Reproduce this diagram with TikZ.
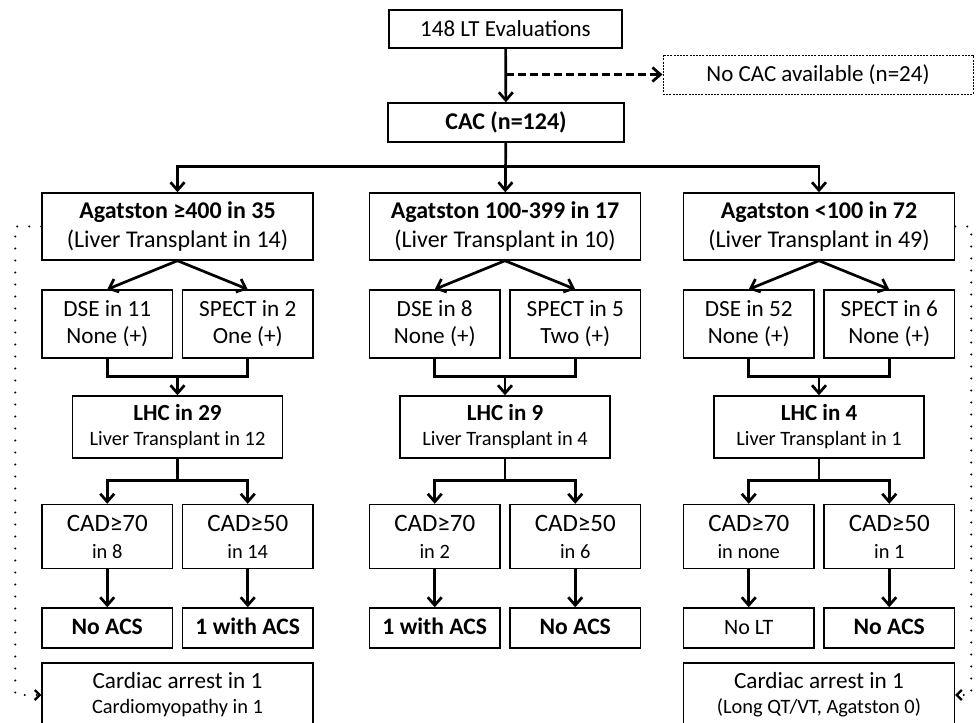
\documentclass[tikz,border=0pt]{standalone}
\usepackage{fontspec}
\setmainfont{Carlito}
\usepackage{tikz}
\usetikzlibrary{positioning, arrows.meta}

\begin{document}
\begin{tikzpicture}[x=0.5pt,y=-0.5pt,
    box/.style={rectangle,draw,line width=0.7pt,align=center,inner sep=0pt,font=\fontsize{11.5}{14.5}\selectfont},
    wide/.style={box,minimum width=135.5pt,minimum height=33.5pt,font=\fontsize{12}{14.5}\selectfont},
    pair/.style={box,minimum width=65.25pt,minimum height=34pt,font=\fontsize{11.6}{13.5}\selectfont},
    lhc/.style={box,minimum width=105pt,minimum height=31pt,font=\fontsize{11.5}{12.5}\selectfont},
    cad/.style={box,minimum width=65.25pt,minimum height=32pt,font=\fontsize{12.5}{13.5}\selectfont},
    res/.style={box,minimum width=65.25pt,minimum height=20pt,text height=8.5pt,text depth=2.5pt,font=\fontsize{11.8}{14}\selectfont},
    card/.style={box,minimum width=135.5pt,minimum height=32pt,font=\fontsize{11.6}{12.5}\selectfont},
    arr/.style={-{Straight Barb[length=4pt,width=7pt]},line width=1.35pt},
    link/.style={line width=1.35pt},
    side/.style={-{Straight Barb[length=2.5pt,width=5pt]},line width=1.1pt,line cap=round,dash pattern=on 0pt off 6pt}
    ]
    \clip (0,0) rectangle (976,723);
    \node [box,minimum width=116.5pt,minimum height=19pt] (eval) at (505.5,29) {148 LT Evaluations};
    \node [box,minimum width=155pt,minimum height=19.5pt,line width=0.5pt,dash pattern=on 1pt off 0.6pt] (nocac) at (818,74.5) {No CAC available (n=24)};
    \node [box,minimum width=118pt,minimum height=19.5pt,font=\fontsize{12}{14}\selectfont] (cac) at (506,122.5) {\textbf{CAC (n=124)}};

    \node [wide] (aga1) at (177.5,226.5) {\textbf{Agatston ≥400 in 35}\\(Liver Transplant in 14)};
    \node [wide] (aga2) at (505,226.5) {\textbf{Agatston 100-399 in 17}\\(Liver Transplant in 10)};
    \node [wide] (aga3) at (819,226.5) {\textbf{Agatston <100 in 72}\\(Liver Transplant in 49)};

    \node [pair] (dse1) at (107.25,324) {DSE in 11\\None (+)};
    \node [pair] (spect1) at (247.75,324) {SPECT in 2\\One (+)};
    \node [pair] (dse2) at (434.75,324) {DSE in 8\\None (+)};
    \node [pair] (spect2) at (575.25,324) {SPECT in 5\\Two (+)};
    \node [pair] (dse3) at (748.75,324) {DSE in 52\\None (+)};
    \node [pair] (spect3) at (889.25,324) {SPECT in 6\\None (+)};

    \node [lhc] (lhc1) at (177.5,427) {\textbf{LHC in 29}\\\fontsize{10.2}{12.5}\selectfont Liver Transplant in 12};
    \node [lhc] (lhc2) at (505,427) {\textbf{LHC in 9}\\\fontsize{10.2}{12.5}\selectfont Liver Transplant in 4};
    \node [lhc] (lhc3) at (819,427) {\textbf{LHC in 4}\\\fontsize{10.2}{12.5}\selectfont Liver Transplant in 1};

    \node [cad] (cad1a) at (107.25,536.5) {CAD≥70\\\fontsize{10.2}{13.5}\selectfont in 8};
    \node [cad] (cad1b) at (247.75,536.5) {CAD≥50\\\fontsize{10.2}{13.5}\selectfont in 14};
    \node [cad] (cad2a) at (434.75,536.5) {CAD≥70\\\fontsize{10.2}{13.5}\selectfont in 2};
    \node [cad] (cad2b) at (575.25,536.5) {CAD≥50\\\fontsize{10.2}{13.5}\selectfont in 6};
    \node [cad] (cad3a) at (748.75,536.5) {CAD≥70\\\fontsize{10.2}{13.5}\selectfont in none};
    \node [cad] (cad3b) at (889.25,536.5) {CAD≥50\\\fontsize{10.2}{13.5}\selectfont in 1};

    \node [res] (res1a) at (107.25,628) {\textbf{No ACS}};
    \node [res] (res1b) at (247.75,628) {\textbf{1 with ACS}};
    \node [res] (res2a) at (434.75,628) {\textbf{1 with ACS}};
    \node [res] (res2b) at (575.25,628) {\textbf{No ACS}};
    \node [res,font=\fontsize{11}{14}\selectfont] (res3a) at (748.75,628) {No LT};
    \node [res] (res3b) at (889.25,628) {\textbf{No ACS}};

    \node [card] (card1) at (177.5,695) {Cardiac arrest in 1\\\fontsize{10.2}{12.5}\selectfont Cardiomyopathy in 1};
    \node [card] (card3) at (819,695) {Cardiac arrest in 1\\\fontsize{10.2}{12.5}\selectfont (Long QT/VT, Agatston 0)};

    \draw [arr] (eval) -- (cac);
    \draw [arr,dash pattern=on 4pt off 2pt] (eval.south |- nocac.west) -- (nocac.west);
    \draw [arr] (cac) -- (aga2);
    \draw [arr] (cac.south) -- ++(0,24) -| (aga1.north);
    \draw [arr] (cac.south) -- ++(0,24) -| (aga3.north);

    \draw [arr] (aga1.south) -- (dse1.north);
    \draw [arr] (aga1.south) -- (spect1.north);
    \draw [arr] (aga2.south) -- (dse2.north);
    \draw [arr] (aga2.south) -- (spect2.north);
    \draw [arr] (aga3.south) -- (dse3.north);
    \draw [arr] (aga3.south) -- (spect3.north);

    \draw [link] (dse1.south) -- ++(0,18) -| (spect1.south);
    \draw [link] (dse2.south) -- ++(0,18) -| (spect2.south);
    \draw [link] (dse3.south) -- ++(0,18) -| (spect3.south);
    \draw [arr] (lhc1.north) ++(0,-20) -- (lhc1.north);
    \draw [arr] (lhc2.north) ++(0,-20) -- (lhc2.north);
    \draw [arr] (lhc3.north) ++(0,-20) -- (lhc3.north);

    \draw [arr] (lhc1.south) -- ++(0,22) -| (cad1a.north);
    \draw [arr] (lhc1.south) -- ++(0,22) -| (cad1b.north);
    \draw [arr] (lhc2.south) -- ++(0,22) -| (cad2a.north);
    \draw [arr] (lhc2.south) -- ++(0,22) -| (cad2b.north);
    \draw [arr] (lhc3.south) -- ++(0,22) -| (cad3a.north);
    \draw [arr] (lhc3.south) -- ++(0,22) -| (cad3b.north);

    \draw [arr] (cad1a) -- (res1a);
    \draw [arr] (cad1b) -- (res1b);
    \draw [arr] (cad2a) -- (res2a);
    \draw [arr] (cad2b) -- (res2b);
    \draw [arr] (cad3a) -- (res3a);
    \draw [arr] (cad3b) -- (res3b);

    \draw [side] (aga1.west) -- ++(-26,0) |- (card1.west);
    \draw [side] (aga3.east) -- ++(16,0) |- (card3.east);
  \end{tikzpicture}
\end{document}
